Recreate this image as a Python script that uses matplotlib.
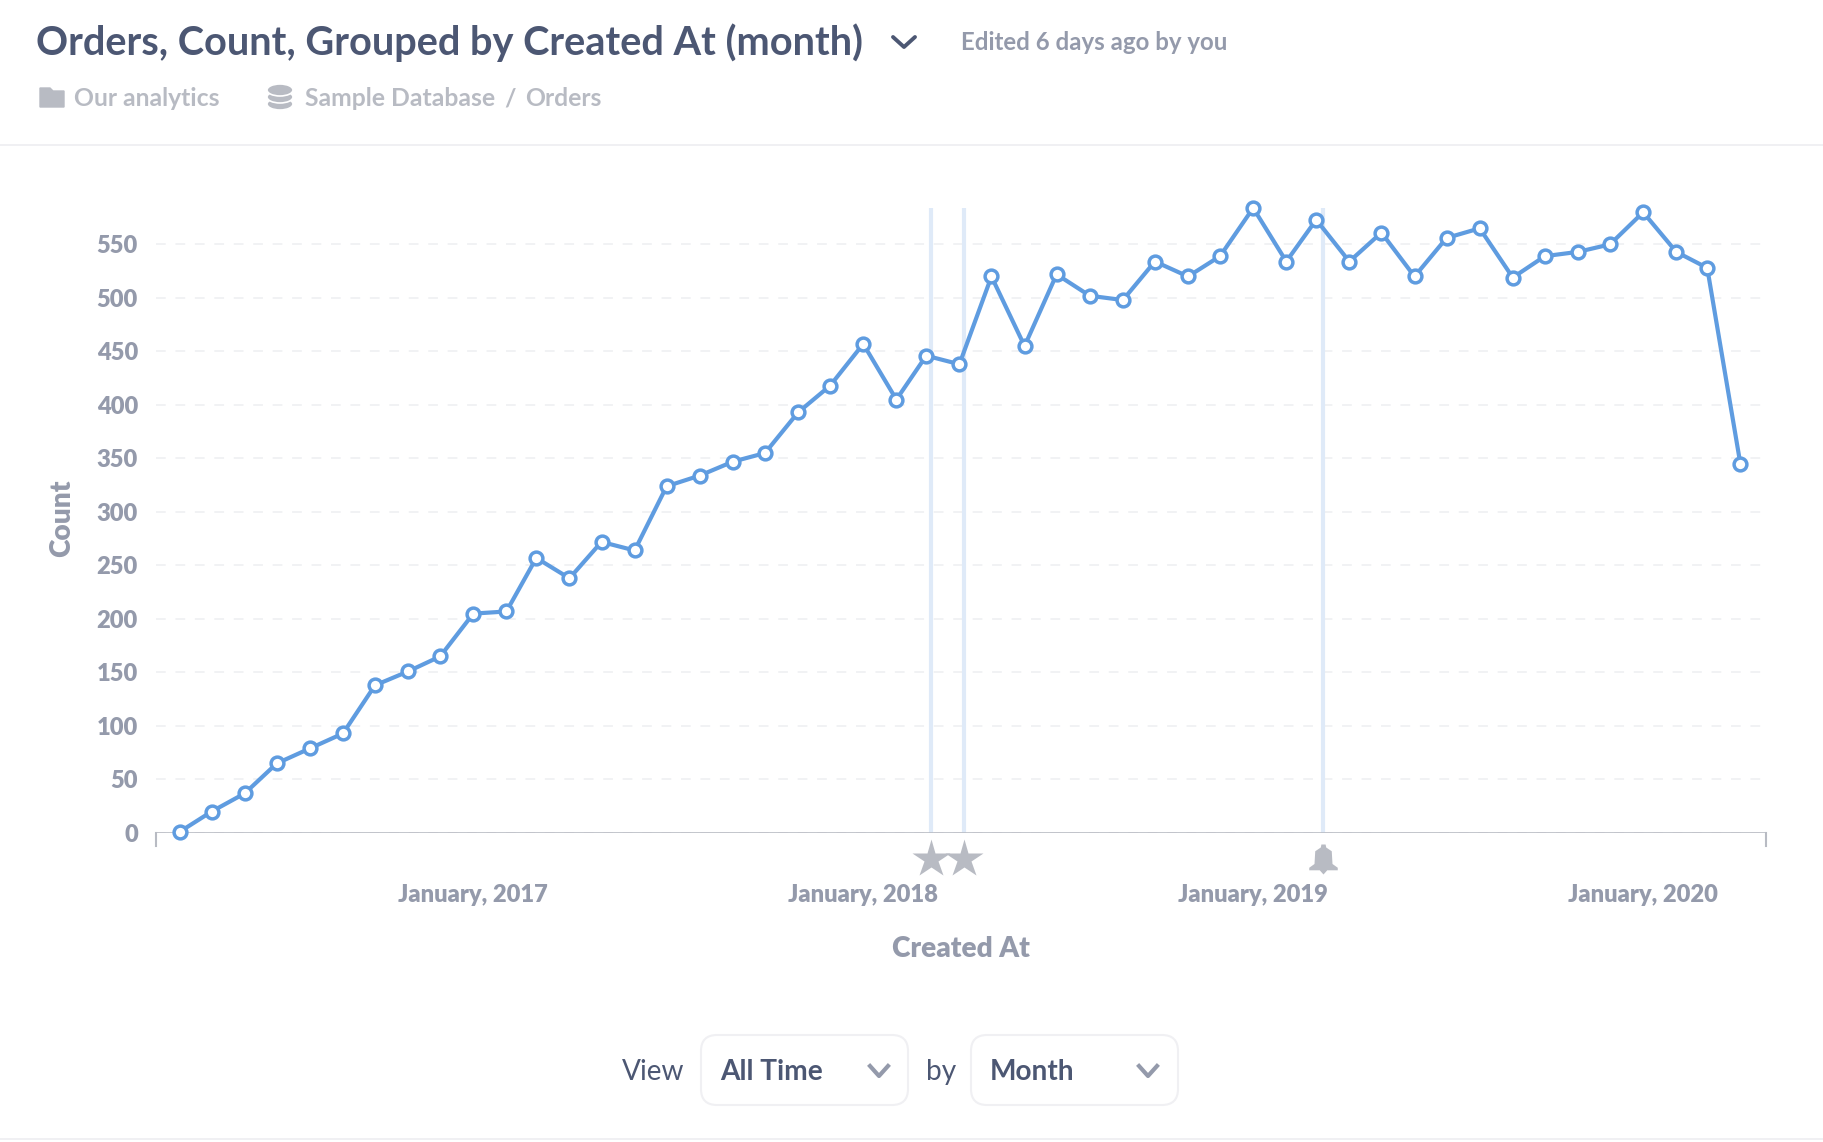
import pandas as pd
import matplotlib
matplotlib.use('Agg')
import matplotlib.pyplot as plt
from matplotlib.patches import FancyBboxPatch, Polygon, Ellipse
from matplotlib.path import Path

plt.rcParams['font.family'] = ['Lato', 'DejaVu Sans']
plt.rcParams['font.weight'] = 'bold'

# Monthly order counts, April 2016 to April 2020
months = pd.date_range('2016-04-01', '2020-04-01', freq='MS')
counts = [1, 20, 37, 65, 79, 93, 138, 151, 165, 205, 207, 257, 238, 272, 264, 324, 334,
          347, 355, 393, 418, 457, 405, 446, 438, 520, 455, 522, 502, 498, 534, 520, 539,
          584, 534, 573, 534, 561, 520, 556, 565, 519, 539, 543, 550, 580, 543, 528, 345]
y_ticks = [0, 50, 100, 150, 200, 250, 300, 350, 400, 450, 500, 550]
x_tick_dates = pd.to_datetime(['2017-01-01', '2018-01-01', '2019-01-01', '2020-01-01'])
x_tick_labels = ['January, 2017', 'January, 2018', 'January, 2019', 'January, 2020']
star_events = pd.to_datetime(['2018-03-05', '2018-04-05'])
bell_events = pd.to_datetime(['2019-03-07'])

DARK = '#4C5773'
GRAY = '#949AAB'
LIGHT = '#B8BBC3'
BORDER = '#F0F0F3'
BLUE = '#5F9CE0'
EVENT = '#DFEAF8'
W, H = 1824, 1142


def px(size):
    return size * 0.72


fig = plt.figure(figsize=(W / 100, H / 100), dpi=100)

# page furniture, in pixel coordinates
bg = fig.add_axes([0, 0, 1, 1])
bg.set_xlim(0, W)
bg.set_ylim(H, 0)
bg.axis('off')

bg.text(36, 43, 'Orders, Count, Grouped by Created At (month)', fontsize=px(39.8), color=DARK, va='center')
bg.plot([893, 904, 915], [37, 47, 37], color=DARK, lw=2.8, solid_capstyle='round')
bg.text(961, 43, 'Edited 6 days ago by you', fontsize=px(24), color=GRAY, va='center')

bg.add_patch(Polygon([(40, 88), (50, 88), (53, 91), (64, 91), (64, 107), (40, 107)], color=LIGHT))
for top in [104, 97, 90]:
    bg.add_patch(Ellipse((280, top), 26, 12, fc=LIGHT, ec='white', lw=1.2))
bg.text(74, 99, 'Our analytics', fontsize=px(24.8), color=LIGHT, va='center')
bg.text(305, 99, 'Sample Database', fontsize=px(24.8), color=LIGHT, va='center')
bg.text(504, 99, '/', fontsize=px(24.8), color=LIGHT, va='center')
bg.text(525, 99, 'Orders', fontsize=px(24.8), color=LIGHT, va='center')

bg.plot([0, W], [145, 145], color=BORDER, lw=1.4)
bg.plot([0, W], [1139, 1139], color=BORDER, lw=1.4)

bg.text(622, 1072, 'View', fontsize=px(28), color=DARK, fontweight='normal', va='center')
bg.text(926, 1072, 'by', fontsize=px(28), color=DARK, fontweight='normal', va='center')
for left, right, label, text_x, chev in [(701, 908, 'All Time', 720, 879), (971, 1178, 'Month', 990, 1148)]:
    bg.add_patch(FancyBboxPatch((left + 16, 1035 + 16), right - left - 32, 70 - 32,
                                boxstyle='round,pad=16', fc='white', ec=BORDER, lw=1.5))
    bg.text(text_x, 1072, label, fontsize=px(28), color=DARK, va='center')
    bg.plot([chev - 9, chev, chev + 9], [1066, 1076, 1066], color=GRAY, lw=3)

# the chart itself
ax = fig.add_axes([156 / W, 1 - 833 / H, (1766 - 156) / W, (833 - 208) / H])
ax.patch.set_alpha(0)
ax.set_xlim(pd.Timestamp('2016-03-10'), pd.Timestamp('2020-04-25'))
ax.set_ylim(0, 584)

for spine in ['top', 'right', 'left', 'bottom']:
    ax.spines[spine].set_visible(False)

ax.set_yticks(y_ticks)
ax.set_xticks(x_tick_dates)
ax.set_xticklabels(x_tick_labels)
ax.tick_params(axis='both', length=0, labelcolor=GRAY, labelsize=px(23.8))
ax.tick_params(axis='y', pad=13)
ax.tick_params(axis='x', pad=37)
for lab in ax.get_xticklabels() + ax.get_yticklabels():
    lab.set_fontweight('heavy')
plt.setp(ax.get_yticklabels(), va='center_baseline')

ax.grid(axis='y', color='#F1F2F4', lw=1.4, dashes=(5, 5))
ax.set_axisbelow(True)

ax.axhline(0, color=LIGHT, lw=1.9, zorder=2)
for end in [0, 1]:
    ax.plot([end, end], [0, -0.02], transform=ax.transAxes, color=LIGHT, lw=1.5, clip_on=False)

for day in list(star_events) + list(bell_events):
    ax.axvline(day, color=EVENT, lw=3, zorder=1)

ax.plot(months, counts, color=BLUE, lw=3, marker='o', ms=9.2, mfc='white', mec=BLUE, mew=2.5,
        clip_on=False, zorder=4)

bell = Path([(-0.14, 1), (0.14, 1), (0.18, 0.8), (0.55, 0.55), (0.6, -0.3), (0.95, -0.55), (0.95, -0.72),
             (0.25, -0.72), (0, -1), (-0.25, -0.72), (-0.95, -0.72), (-0.95, -0.55), (-0.6, -0.3),
             (-0.55, 0.55), (-0.18, 0.8), (-0.14, 1)])
ax.plot(star_events, [-24.5] * len(star_events), ls='', marker='*', ms=px(40), mfc=LIGHT, mec='none', clip_on=False)
ax.plot(bell_events, [-24.5] * len(bell_events), ls='', marker=bell, ms=px(30), mfc=LIGHT, mec='none', clip_on=False)

ax.set_xlabel('Created At', fontsize=px(28), color=GRAY, fontweight='heavy')
ax.xaxis.set_label_coords((961 - 156) / (1766 - 156), -(949 - 833) / (833 - 208), transform=ax.transAxes)
ax.xaxis.label.set_va('center')
ax.set_ylabel('Count', fontsize=px(28), color=GRAY, fontweight='heavy')
ax.yaxis.set_label_coords((62 - 156) / (1766 - 156), (833 - 518) / (833 - 208), transform=ax.transAxes)
ax.yaxis.label.set_va('center')

fig.savefig('out.png', dpi=100)
